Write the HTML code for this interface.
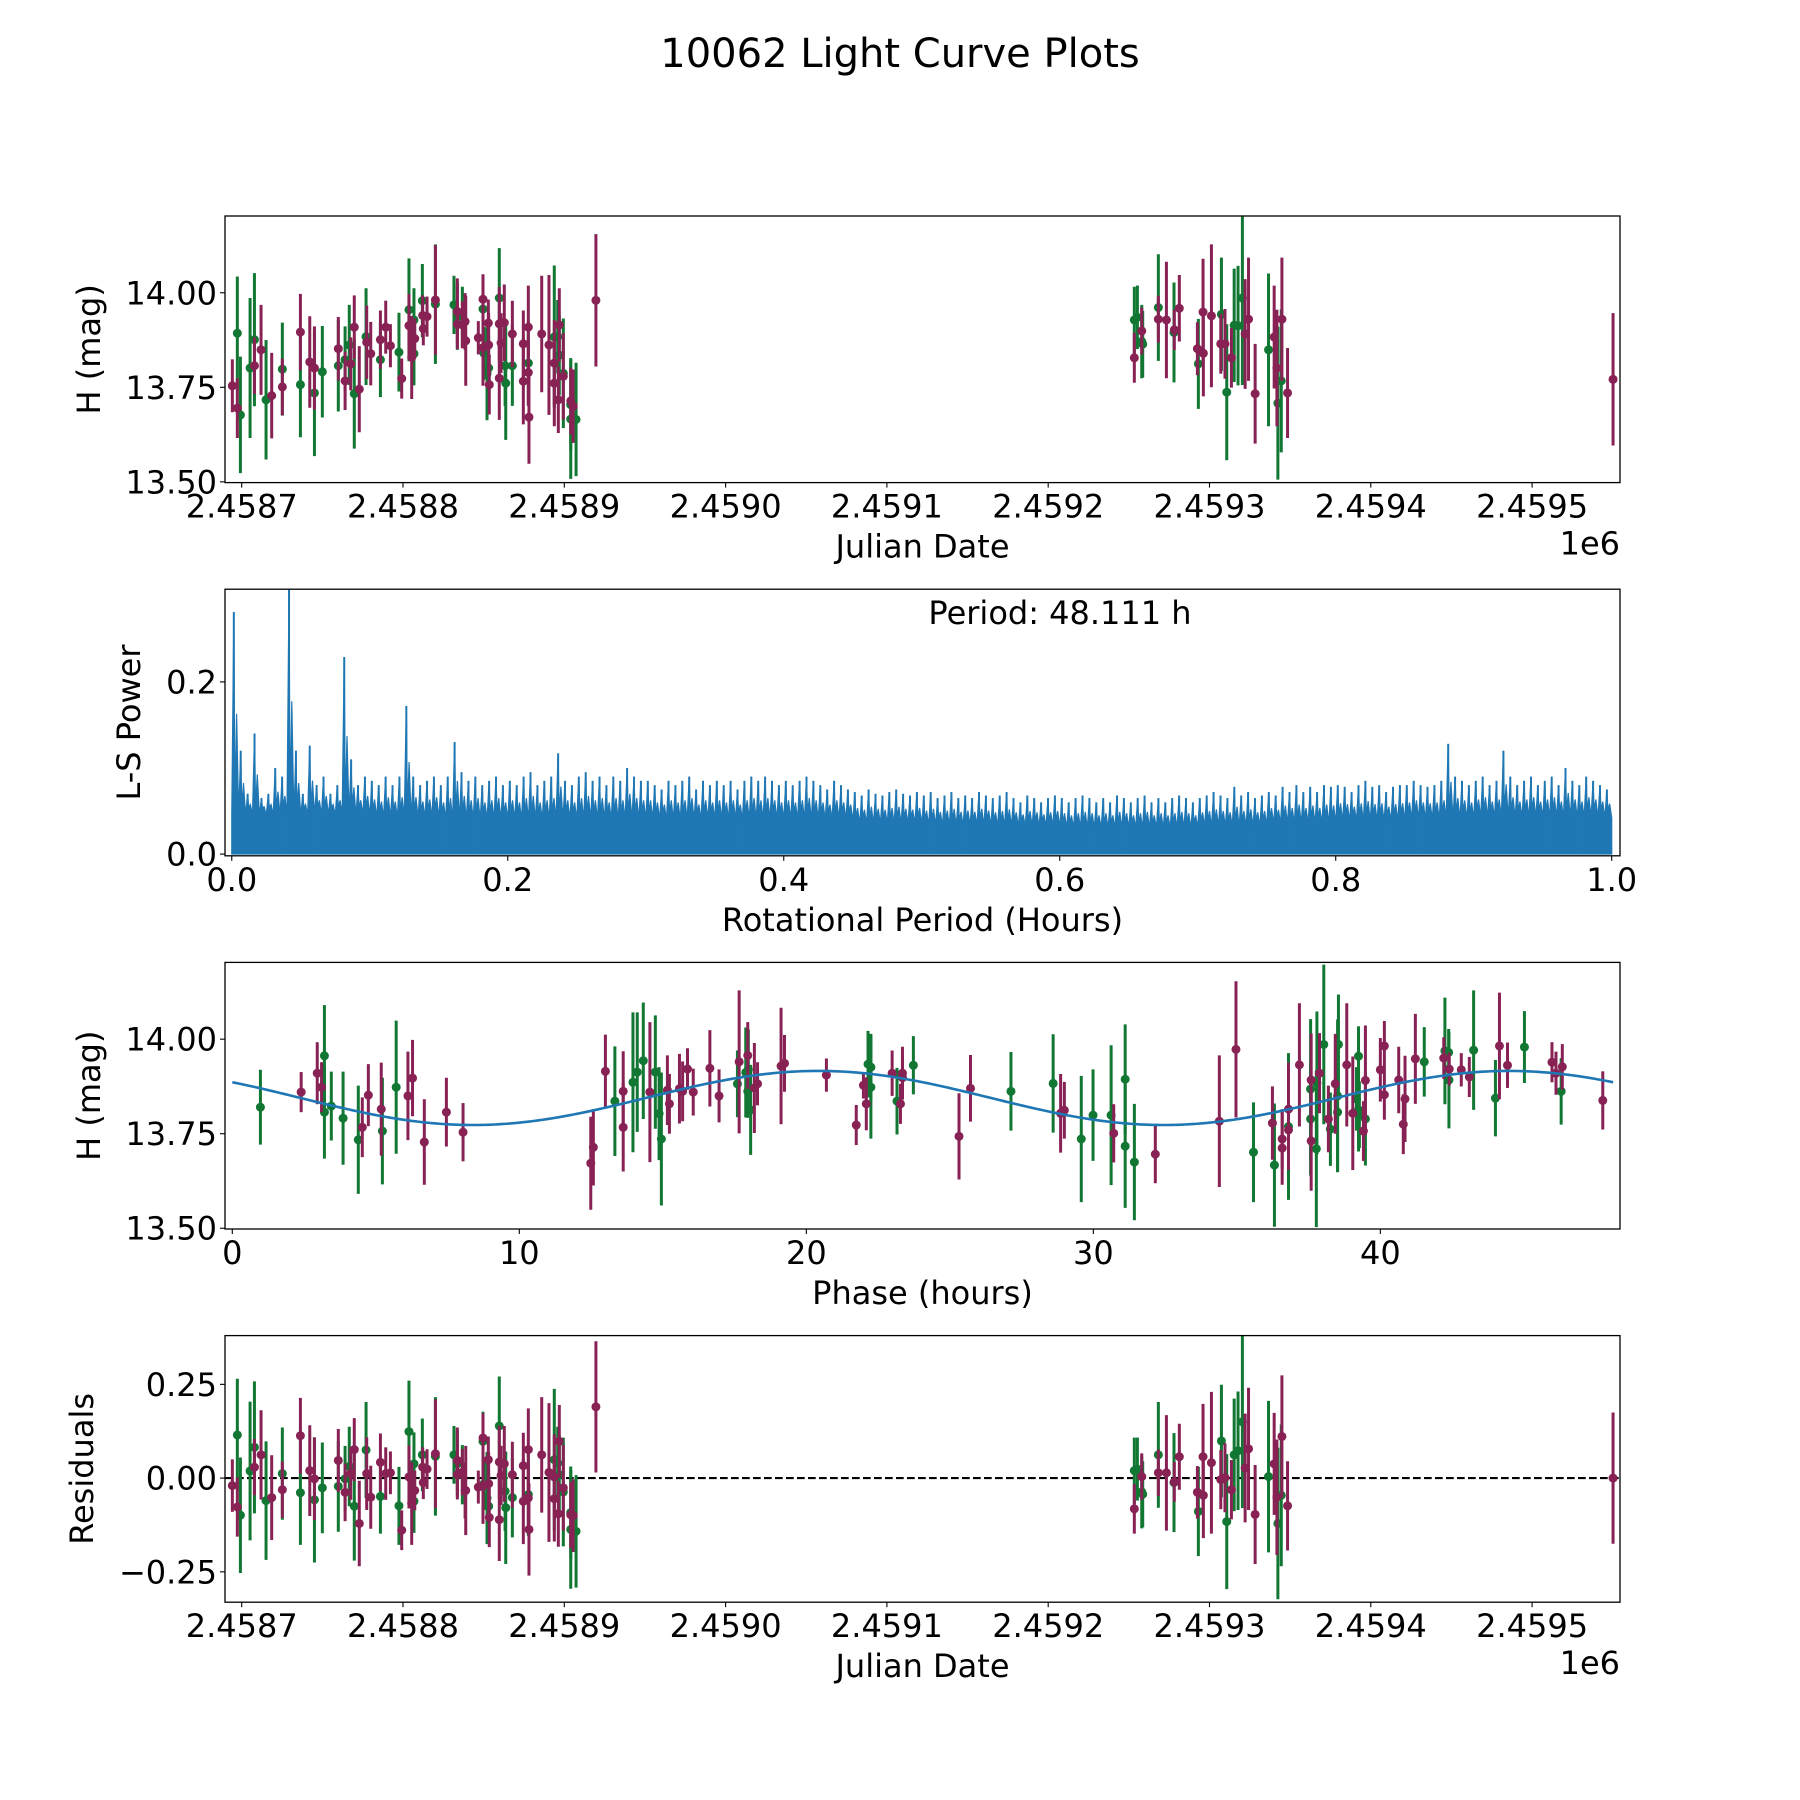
<!DOCTYPE html>
<html><head><meta charset="utf-8"><style>
html,body{margin:0;padding:0;background:#fff}
svg{display:block}
text{font-family:"DejaVu Sans","Liberation Sans",sans-serif;fill:#000}
</style></head><body>
<svg id="fig" xmlns="http://www.w3.org/2000/svg" width="1800" height="1800" viewBox="0 0 1800 1800">
<rect x="0" y="0" width="1800" height="1800" fill="#fff"/>
<text x="900" y="67" font-size="40" text-anchor="middle">10062 Light Curve Plots</text>
</svg>
<script>
// ---- light-curve data (days since JD 2458700) ----
const jdOffset=[-5.8,-2.7,-2.7,-0.8,5.2,7.9,7.9,12.0,15.1,18.6,25.2,25.2,36.4,36.4,42.2,45.1,45.1,50.0,59.9,59.9,64.1,64.1,66.7,67.6,69.8,69.8,72.9,77.1,77.5,80.0,86.0,86.0,89.3,92.2,97.5,99.2,103.7,103.7,105.4,106.8,107.3,106.8,112.0,112.6,112.2,114.9,120.1,120.1,131.6,133.7,133.7,133.7,136.8,136.8,138.5,138.9,146.7,149.6,149.6,149.6,150.2,152.1,152.9,153.1,153.1,153.5,159.7,159.7,159.7,160.8,162.8,163.3,163.7,167.8,167.8,174.6,174.6,177.7,177.7,177.7,178.1,186.0,190.5,193.8,193.8,193.8,195.9,196.3,196.9,196.9,199.4,199.4,204.0,204.0,204.0,205.5,207.3,219.6,
553.4,553.4,555.3,558.0,558.0,558.6,568.3,568.3,573.3,578.0,578.2,581.3,592.5,593.1,596.0,596.2,601.2,607.4,607.0,609.6,610.7,613.6,615.3,617.7,620.4,622.1,624.2,628.3,636.6,640.1,641.8,642.4,644.5,644.9,648.4,850.2];
const magBand=("mgmggmgmgmgmmgmmggmgmggmmgmgmmgmmmgmgmmgmggmmmmggmgmmgmmmmgmggmmgmgmmmmggmgmmmgmmmmgmmgmmggmmggmgm"+"mggmggg mmgmmmgmmmgmmgmgggmmmgmmggmmm").replace(/ /g,"").split("");
const mag=[13.754,13.893,13.695,13.677,13.801,13.807,13.876,13.849,13.717,13.728,13.798,13.751,13.896,13.757,13.817,13.801,13.735,13.791,13.852,13.807,13.767,13.823,13.862,13.812,13.909,13.733,13.745,13.884,13.869,13.839,13.823,13.876,13.909,13.860,13.843,13.773,13.955,13.913,13.829,13.928,13.879,13.839,13.979,13.905,13.940,13.937,13.981,13.970,13.968,13.950,13.937,13.917,13.915,13.937,13.924,13.873,13.881,13.983,13.957,13.855,13.840,13.786,13.920,13.862,13.801,13.757,13.986,13.918,13.774,13.867,13.921,13.807,13.761,13.891,13.807,13.865,13.766,13.909,13.814,13.789,13.671,13.891,13.862,13.883,13.814,13.761,13.884,13.717,13.915,13.835,13.787,13.779,13.714,13.704,13.666,13.70,13.665,13.98,
13.828,13.928,13.935,13.899,13.871,13.864,13.961,13.930,13.928,13.895,13.902,13.959,13.852,13.812,13.949,13.840,13.939,13.943,13.865,13.865,13.737,13.828,13.914,13.913,13.986,13.891,13.930,13.733,13.849,13.883,13.801,13.708,13.767,13.930,13.735,13.771];
const magErr=[.070,.150,.079,.154,.185,.075,.176,.119,.158,.113,.123,.075,.101,.139,.121,.110,.167,.121,.084,.121,.077,.088,.106,.070,.084,.145,.114,.128,.097,.084,.099,.077,.070,.057,.104,.053,.136,.084,.110,.084,.053,.084,.097,.044,.053,.053,.145,.158,.077,.088,.088,.066,.062,.079,.075,.119,.044,.066,.079,.101,.070,.123,.062,.084,.088,.079,.132,.097,.110,.079,.101,.106,.150,.088,.106,.088,.114,.110,.110,.088,.123,.154,.185,.189,.114,.114,.097,.088,.097,.106,.145,.114,.088,.123,.158,.097,.150,.175,
.066,.088,.084,.062,.097,.088,.141,.062,.154,.132,.053,.088,.070,.119,.141,.114,.189,.150,.079,.092,.180,.079,.150,.158,.230,.145,.163,.132,.202,.136,.154,.202,.189,.163,.119,.175];
const resid=[-0.020,0.115,-0.077,-0.099,0.019,0.029,0.082,0.062,-0.060,-0.052,0.012,-0.031,0.113,-0.039,0.020,-0.002,-0.058,-0.026,0.047,-0.022,-0.038,-0.002,0.031,0.012,0.076,-0.075,-0.121,0.075,0.012,-0.051,-0.049,0.042,0.012,0.014,-0.074,-0.139,0.124,0.003,-0.068,0.038,-0.033,-0.062,0.062,-0.012,0.029,0.024,0.065,0.058,0.062,0.047,0.038,0.009,0.016,0.009,-0.033,-0.033,-0.024,0.107,0.098,-0.021,-0.015,-0.053,0.049,-0.015,-0.075,-0.105,0.139,0.043,-0.111,0.007,0.038,-0.035,-0.079,0.009,-0.052,0.033,-0.062,0.076,-0.044,-0.053,-0.137,0.062,0.015,0.049,0.003,-0.055,0.040,-0.095,0.098,0.009,-0.037,-0.026,-0.098,-0.092,-0.137,-0.10,-0.142,0.19,
-0.082,0.020,0.024,0.004,-0.037,-0.043,0.062,0.014,0.014,-0.012,-0.010,0.057,-0.038,-0.089,0.057,-0.046,0.041,0.099,-0.004,0.001,-0.116,-0.031,0.062,0.073,0.150,0.027,0.078,-0.097,0.004,0.038,-0.051,-0.121,-0.046,0.111,-0.074,0.0];
// ---- phase-folded data ----
const phase=[0.98,2.40,2.96,3.11,3.21,3.21,3.45,3.86,4.39,4.53,4.74,5.19,5.23,5.71,6.12,6.28,6.69,7.46,8.04,12.49,12.58,13.00,13.33,13.62,13.62,13.96,14.11,14.32,14.55,14.74,14.87,14.95,15.16,15.23,15.58,15.69,15.86,16.06,
16.64,16.96,17.60,17.66,17.96,17.89,17.98,17.96,18.06,18.19,18.30,19.12,19.24,20.70,21.74,21.99,22.09,22.15,22.25,22.25,22.99,23.16,23.28,23.35,23.35,23.73,25.32,25.72,27.13,28.60,28.86,28.99,29.58,29.99,30.62,30.71,31.11,31.11,31.43,32.16,
34.39,34.97,35.58,36.24,36.31,36.58,36.58,36.80,36.80,36.80,37.18,37.57,37.57,37.59,37.59,37.79,37.77,37.88,38.03,38.19,38.26,38.43,38.51,38.54,38.51,38.83,39.04,39.17,39.24,39.24,39.27,39.41,39.48,39.48,40.00,40.14,40.14,40.64,40.80,40.86,41.22,41.53,42.21,42.25,42.38,42.40,42.39,42.82,43.10,43.25,44.01,44.15,44.43,45.02,45.98,46.12,46.34,46.30,47.75];
const phaseBand=("gmmmggggg mmmggmmmmmmmmgmmgggmgggmmmmmm"+"mmgmmggggmmmmmmmmggg mgmmmgmmggmmgggmggg m"+"mmgmgmmmgmmggmmggmgmgmgggmmgggg mmgmmmmmmmgmggmgmmggmmgmmmgm").replace(/ /g,"").split("");
const phaseMag=[13.820,13.860,13.910,13.873,13.956,13.807,13.823,13.791,13.734,13.767,13.852,13.815,13.757,13.873,13.850,13.897,13.728,13.807,13.754,13.672,13.714,13.915,13.836,13.862,13.767,13.886,13.913,13.943,13.860,13.913,13.803,13.736,13.865,13.829,13.869,13.862,13.921,13.860,
13.923,13.850,13.882,13.940,13.957,13.912,13.920,13.862,13.813,13.871,13.882,13.929,13.936,13.905,13.773,13.878,13.829,13.934,13.926,13.873,13.910,13.836,13.829,13.910,13.898,13.931,13.743,13.870,13.862,13.883,13.804,13.812,13.736,13.799,13.799,13.751,13.894,13.717,13.675,13.696,
13.783,13.973,13.701,13.778,13.667,13.736,13.712,13.815,13.769,13.760,13.932,13.868,13.789,13.892,13.731,13.884,13.710,13.910,13.986,13.789,13.762,13.882,13.850,13.986,13.807,13.932,13.804,13.842,13.955,13.813,13.800,13.757,13.891,13.789,13.919,13.982,13.853,13.892,13.775,13.842,13.948,13.940,13.950,13.969,13.965,13.921,13.892,13.919,13.900,13.971,13.844,13.982,13.931,13.979,13.939,13.910,13.927,13.862,13.838];
const phaseErr=[.099,.053,.082,.066,.134,.123,.091,.123,.143,.079,.082,.123,.141,.176,.117,.101,.113,.091,.077,.123,.101,.097,.145,.106,.117,.185,.158,.154,.185,.150,.123,.176,.092,.079,.092,.079,.055,.062,
.101,.070,.088,.189,.088,.119,.106,.070,.119,.119,.057,.154,.075,.044,.053,.035,.070,.088,.088,.136,.060,.088,.053,.070,.053,.077,.114,.088,.104,.130,.104,.075,.167,.121,.185,.077,.145,.163,.154,.077,
.174,.180,.132,.097,.163,.079,.097,.123,.194,.106,.163,.185,.150,.123,.132,.189,.207,.106,.211,.088,.097,.132,.202,.132,.158,.163,.150,.084,.079,.110,.088,.079,.145,.123,.084,.066,.066,.088,.079,.114,.119,.092,.055,.141,.062,.044,.128,.044,.053,.158,.101,.141,.060,.095,.053,.057,.060,.088,.077];
// fitted model parameters: [mean, amplitude, period(h), phase of max(h), span(h)]
const fitParams=[13.8445,0.0715,24.056,20.42,48.111];
// ---- periodogram: peak power per 0.005 h bin, and solid floor level per 0.05 h ----
const lsPeaks=[0.281,0.12,0.07,0.14,0.065,0.07,0.1,0.09,0.31,0.12,
0.07,0.126,0.08,0.09,0.07,0.08,0.229,0.11,0.08,0.09,
0.085,0.08,0.09,0.08,0.09,0.172,0.09,0.08,0.085,0.09,
0.08,0.09,0.13,0.095,0.085,0.09,0.08,0.085,0.09,0.08,
0.085,0.08,0.09,0.095,0.08,0.085,0.09,0.117,0.085,0.08,
0.09,0.095,0.085,0.09,0.08,0.09,0.085,0.1,0.09,0.085,
0.085,0.08,0.075,0.085,0.08,0.085,0.09,0.075,0.085,0.08,
0.085,0.08,0.085,0.075,0.085,0.09,0.085,0.09,0.085,0.08,
0.085,0.08,0.085,0.09,0.085,0.08,0.075,0.085,0.08,0.075,
0.072,0.068,0.075,0.07,0.068,0.072,0.075,0.07,0.068,0.072,
0.068,0.072,0.065,0.068,0.072,0.065,0.068,0.065,0.072,0.068,
0.065,0.068,0.072,0.065,0.06,0.068,0.065,0.06,0.065,0.068,
0.065,0.06,0.065,0.068,0.065,0.06,0.065,0.06,0.068,0.065,
0.06,0.065,0.068,0.06,0.065,0.06,0.065,0.068,0.065,0.06,
0.065,0.068,0.072,0.068,0.065,0.078,0.068,0.072,0.065,0.068,
0.072,0.068,0.078,0.072,0.08,0.072,0.078,0.072,0.08,0.078,
0.08,0.078,0.072,0.08,0.085,0.078,0.08,0.072,0.078,0.08,
0.08,0.085,0.08,0.078,0.08,0.085,0.128,0.09,0.085,0.08,
0.085,0.09,0.08,0.085,0.12,0.09,0.08,0.085,0.09,0.08,
0.085,0.09,0.08,0.1,0.085,0.08,0.09,0.085,0.08,0.075];
const lsFloor=[0.045,0.045,0.042,0.04,0.04,0.04,0.04,0.04,0.04,0.035,0.033,0.032,0.03,0.03,0.032,0.035,0.038,0.04,0.042,0.042];
const jdTicks=[0,100,200,300,400,500,600,700,800];
const jdTickLabels=["2.4587","2.4588","2.4589","2.4590","2.4591","2.4592","2.4593","2.4594","2.4595"];
const magTicks=[13.5,13.75,14.0];
const magTickLabels=["13.50","13.75","14.00"];
const lsXTicks=[0,0.2,0.4,0.6,0.8,1.0];
const lsXTickLabels=["0.0","0.2","0.4","0.6","0.8","1.0"];
const lsYTicks=[0,0.2];
const lsYTickLabels=["0.0","0.2"];
const phaseTicks=[0,10,20,30,40];
const phaseTickLabels=["0","10","20","30","40"];
const residTicks=[-0.25,0,0.25];
const residTickLabels=["\u22120.25","0.00","0.25"];

const NS="http://www.w3.org/2000/svg";
const svg=document.getElementById('fig');
const COL={g:"#117733",m:"#882255"};
function mk(tag,attrs,parent){const e=document.createElementNS(NS,tag);for(const k in attrs)e.setAttribute(k,attrs[k]);(parent||svg).appendChild(e);return e;}
function scale(d0,d1,r0,r1){return v=>r0+(v-d0)/(d1-d0)*(r1-r0);}

function makePanel(id,box,xlim,ylim){
  const g=mk('g',{});
  
  
  const cp=mk('clipPath',{id:id+'-clip'},g);
  mk('rect',{x:box.x0,y:box.y0,width:box.x1-box.x0,height:box.y1-box.y0},cp);
  const plot=mk('g',{'clip-path':'url(#'+id+'-clip)'},g);
  
  
  return {g,plot,box,sx:scale(xlim[0],xlim[1],box.x0,box.x1),sy:scale(ylim[0],ylim[1],box.y1,box.y0)};
}
function drawFrame(P,xt,xtl,yt,ytl,xlabel,ylabel,ylabX,offsetText){
  const b=P.box;
  const fr=mk('rect',{x:b.x0,y:b.y0,width:b.x1-b.x0,height:b.y1-b.y0,fill:'none',stroke:'#000','stroke-width':1.3},P.g);
  
  
  xt.forEach((v,i)=>{const x=P.sx(v);
    mk('line',{x1:x,x2:x,y1:b.y1,y2:b.y1+5,stroke:'#000','stroke-width':1.1},P.g);
    const t=mk('text',{x:x,y:b.y1+35,'font-size':32,'text-anchor':'middle'},P.g);
    
    
    t.textContent=xtl[i];});
  yt.forEach((v,i)=>{const y=P.sy(v);
    mk('line',{x1:b.x0-5,x2:b.x0,y1:y,y2:y,stroke:'#000','stroke-width':1.1},P.g);
    const t=mk('text',{x:b.x0-8,y:y+11.5,'font-size':32,'text-anchor':'end'},P.g);
    
    
    t.textContent=ytl[i];});
  const xl=mk('text',{x:(b.x0+b.x1)/2,y:b.y1+75,'font-size':32,'text-anchor':'middle'},P.g);
  
  
  xl.textContent=xlabel;
  const cy=(b.y0+b.y1)/2;
  const yl=mk('text',{x:ylabX,y:cy,'font-size':32,'text-anchor':'middle',transform:'rotate(-90 '+ylabX+' '+cy+')'},P.g);
  
  
  yl.textContent=ylabel;
  if(offsetText){const o=mk('text',{x:b.x1,y:b.y1+72,'font-size':32,'text-anchor':'end'},P.g);
    
    
    o.textContent=offsetText;}
}
function errorbars(P,xs,ys,es,bands,name){
  const n=Math.min(xs.length,ys.length,es.length,bands.length);
  ['g','m'].forEach(bd=>{
    for(let i=0;i<n;i++){ if(bands[i]!==bd)continue;
      const x=P.sx(xs[i]);
      const l=mk('line',{x1:x,x2:x,y1:P.sy(ys[i]-es[i]),y2:P.sy(ys[i]+es[i]),stroke:COL[bd],'stroke-width':3},P.plot);
      
      
      const c=mk('circle',{cx:x,cy:P.sy(ys[i]),r:4.5,fill:COL[bd]},P.plot);
      
      
    }
  });
}

// Panel 1: raw light curve
const P1=makePanel('light-curve-panel',{x0:225,x1:1620,y0:216,y1:482.6},[-10.35,854.5],[13.498,14.203]);
errorbars(P1,jdOffset,mag,magErr,magBand,'light-curve');
drawFrame(P1,jdTicks,jdTickLabels,magTicks,magTickLabels,'Julian Date','H (mag)',100,'1e6');

// Panel 2: periodogram
const P2=makePanel('periodogram-panel',{x0:225,x1:1620,y0:589.2,y1:855.8},[-0.0049,1.006],[-0.002,0.3077]);
(function(){
  const w=1/lsPeaks.length;
  let d='M'+P2.sx(0)+' '+P2.sy(0);
  for(let i=0;i<lsPeaks.length;i++){
    const fl=lsFloor[Math.min(lsFloor.length-1,Math.floor(i*lsFloor.length/lsPeaks.length))];
    const x0=i*w;
    d+=' L'+P2.sx(x0)+' '+P2.sy(fl)+' L'+P2.sx(x0+w*0.3)+' '+P2.sy(lsPeaks[i])+' L'+P2.sx(x0+w*0.45)+' '+P2.sy(fl*1.2)+' L'+P2.sx(x0+w*0.7)+' '+P2.sy((lsPeaks[i]+fl)/2)+' L'+P2.sx(x0+w)+' '+P2.sy(fl);
  }
  d+=' L'+P2.sx(1)+' '+P2.sy(0)+' Z';
  const p=mk('path',{d:d,fill:'#1f77b4',stroke:'#1f77b4','stroke-width':1.2,'stroke-linejoin':'miter'},P2.plot);
  
  
  lsPeaks.forEach((v,i)=>{const x=P2.sx((i+0.3)*w);
    const l=mk('line',{x1:x,x2:x,y1:P2.sy(0),y2:P2.sy(v),stroke:'#1f77b4','stroke-width':2},P2.plot);
    
    });
})();
drawFrame(P2,lsXTicks,lsXTickLabels,lsYTicks,lsYTickLabels,'Rotational Period (Hours)','L-S Power',140,null);
const pt=mk('text',{x:1060,y:624,'font-size':32,'text-anchor':'middle'});


pt.textContent='Period: 48.111 h';

// Panel 3: phase-folded
const P3=makePanel('phase-panel',{x0:225,x1:1620,y0:962.4,y1:1229},[-0.254,48.35],[13.498,14.203]);
errorbars(P3,phase,phaseMag,phaseErr,phaseBand,'phase');
(function(){
  const [mu,amp,per,tmax,span]=fitParams;
  let d='';
  for(let k=0;k<=400;k++){const p=span*k/400;const v=mu+amp*Math.cos(2*Math.PI*(p-tmax)/per);
    d+=(k?' L':'M')+P3.sx(p).toFixed(2)+' '+P3.sy(v).toFixed(2);}
  const l=mk('path',{d:d,fill:'none',stroke:'#1f77b4','stroke-width':2.6},P3.plot);
  
  
})();
drawFrame(P3,phaseTicks,phaseTickLabels,magTicks,magTickLabels,'Phase (hours)','H (mag)',100,null);

// Panel 4: residuals
const P4=makePanel('residuals-panel',{x0:225,x1:1620,y0:1335.6,y1:1602.2},[-10.35,854.5],[-0.331,0.380]);
(function(){const y=P4.sy(0);
  const l=mk('line',{x1:P4.box.x0,x2:P4.box.x1,y1:y,y2:y,stroke:'#000','stroke-width':2.1,'stroke-dasharray':'7.7 3.3'},P4.plot);
  
  })();
errorbars(P4,jdOffset,resid,magErr,magBand,'residual');
drawFrame(P4,jdTicks,jdTickLabels,residTicks,residTickLabels,'Julian Date','Residuals',93,'1e6');
</script>
</body></html>
